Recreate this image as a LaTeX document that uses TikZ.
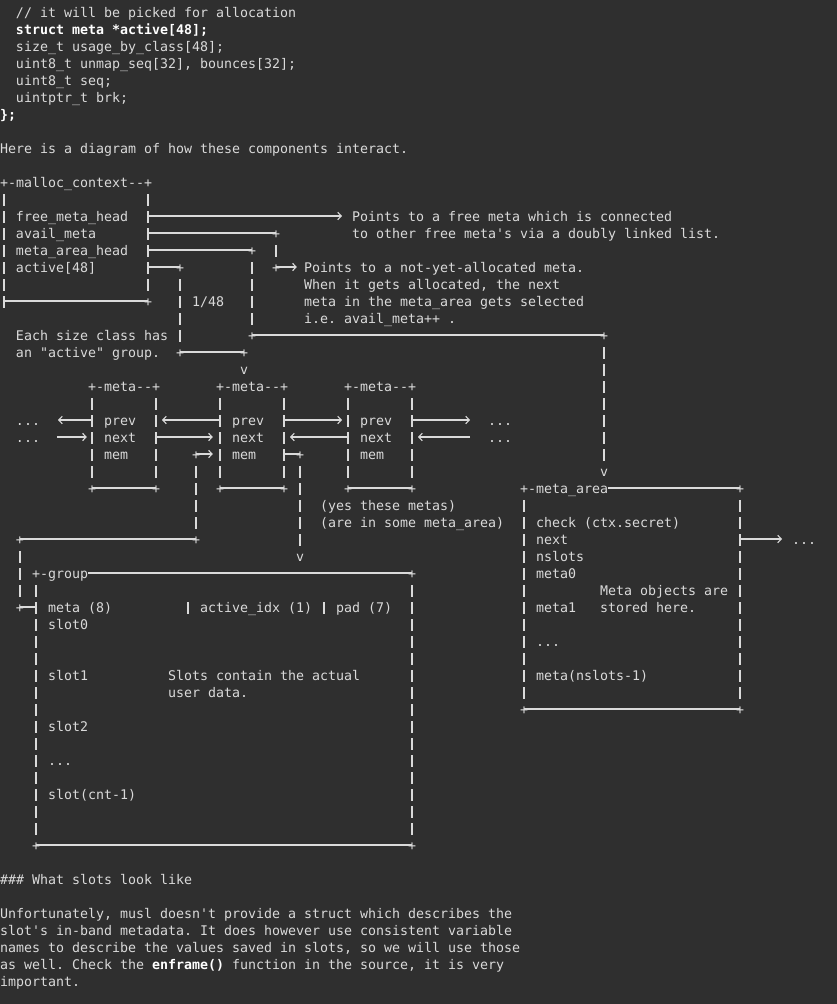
\documentclass[tikz,border=0pt]{standalone}
\usepackage{fontspec}
\setmonofont{DejaVu Sans Mono}
\usetikzlibrary{arrows.meta}
\definecolor{bg}{HTML}{2F2F2F}
\definecolor{fg}{HTML}{DADADA}
\tikzset{
  txt/.style={anchor=base west, inner sep=0pt, outer sep=0pt, text=fg,
    font=\ttfamily\fontsize{13.29pt}{17pt}\selectfont, xshift=-4pt, yshift=-5pt},
  bld/.style={txt, text=white, font=\ttfamily\bfseries\fontsize{13.29pt}{17pt}\selectfont},
  ln/.style={draw=fg, line width=1.1pt},
  arr/.style={ln, -{Straight Barb[length=3.5pt,width=7.5pt]}},
}
\newcommand\Tx[4]{\node[txt] (#1) at (#2,#3) {#4};}
\newcommand\Bx[4]{\node[bld] (#1) at (#2,#3) {#4};}
\newcommand\Vb[3]{\foreach \rr in {#2,...,#3}{\draw[ln] (#1,\rr-0.29) -- (#1,\rr+0.41);}}
\begin{document}
\begin{tikzpicture}[x=1pt,y=1pt]
\fill[bg] (0,0) rectangle (837,-1004);
\useasboundingbox (0,0) rectangle (837,-1004);
\begin{scope}[x=8pt,y=-17pt,shift={(4pt,-12pt)}]
% ---------- code excerpt ----------
\Tx{c1}{2}{0}{// it will be picked for allocation}
\Bx{c2}{2}{1}{struct meta *active[48];}
\Tx{c3}{2}{2}{size\_t usage\_by\_class[48];}
\Tx{c4}{2}{3}{uint8\_t unmap\_seq[32], bounces[32];}
\Tx{c5}{2}{4}{uint8\_t seq;}
\Tx{c6}{2}{5}{uintptr\_t brk;}
\Bx{c7}{0}{6}{\};}
\Tx{intro}{0}{8}{Here is a diagram of how these components interact.}
% ---------- malloc_context ----------
\Tx{ctxtop}{0}{10}{+-malloc\_context--+}
\Vb{0}{11}{17}
\Vb{18}{11}{16}
\Tx{f1}{2}{12}{free\_meta\_head}
\Tx{f2}{2}{13}{avail\_meta}
\Tx{f3}{2}{14}{meta\_area\_head}
\Tx{f4}{2}{15}{active[48]}
\draw[ln] (0,17) -- (18,17);
\Tx{ctxbr}{18}{17}{+}
% free_meta_head
\draw[arr] (18,12) -- (42.25,12);
\Tx{n1a}{44}{12}{Points to a free meta which is connected}
\Tx{n1b}{44}{13}{to other free meta's via a doubly linked list.}
% avail_meta
\draw[ln] (18,13) -- (34,13);
\Tx{p1}{34}{13}{+}
\Vb{34}{14}{14}
\Tx{p2}{34}{15}{+}
\draw[arr] (34,15) -- (36.6,15);
\Tx{n2a}{38}{15}{Points to a not-yet-allocated meta.}
\Tx{n2b}{38}{16}{When it gets allocated, the next}
\Tx{n2c}{38}{17}{meta in the meta\_area gets selected}
\Tx{n2d}{38}{18}{i.e. avail\_meta++ .}
% meta_area_head
\draw[ln] (18,14) -- (31,14);
\Tx{p3}{31}{14}{+}
\Vb{31}{15}{18}
\draw[ln] (31,19) -- (75,19);
\Tx{p4}{31}{19}{+}
\Tx{p5}{75}{19}{+}
\Vb{75}{20}{26}
\Tx{v1}{75}{27}{v}
% active
\draw[ln] (18,15) -- (22,15);
\Tx{p6}{22}{15}{+}
\Vb{22}{16}{19}
\Tx{frac}{24}{17}{1/48}
\draw[ln] (22,20) -- (30,20);
\Tx{p7}{22}{20}{+}
\Tx{p8}{30}{20}{+}
\Tx{v2}{30}{21}{v}
\Tx{e1}{2}{19}{Each size class has}
\Tx{e2}{2}{20}{an "active" group.}
% ---------- meta boxes ----------
\foreach \x/\nm in {11/ma,27/mb,43/mc}{
  \node[txt] (\nm top) at (\x,22) {+-meta--+};
  \Vb{\x}{23}{27}
  \Vb{\x+8}{23}{27}
  \draw[ln] (\x,28) -- (\x+8,28);
  \node[txt] (\nm bl) at (\x,28) {+};
  \node[txt] (\nm br) at (\x+8,28) {+};
  \node[txt] (\nm prev) at (\x+2,24) {prev};
  \node[txt] (\nm next) at (\x+2,25) {next};
  \node[txt] (\nm mem) at (\x+2,26) {mem};
}
\Tx{d1}{2}{24}{...}
\Tx{d2}{2}{25}{...}
\Tx{d3}{61}{24}{...}
\Tx{d4}{61}{25}{...}
\draw[arr] (11,24) -- (6.75,24);
\draw[arr] (27,24) -- (19.75,24);
\draw[arr] (35,24) -- (42.25,24);
\draw[arr] (51,24) -- (58.25,24);
\draw[arr] (6.6,25) -- (10.35,25);
\draw[arr] (19,25) -- (26.1,25);
\draw[arr] (43,25) -- (35.75,25);
\draw[arr] (58.25,25) -- (51.75,25);
% mem pointers
\Tx{p9}{24}{26}{+}
\draw[arr] (24,26) -- (26.1,26);
\draw[ln] (35,26) -- (37,26);
\Tx{p10}{37}{26}{+}
\Vb{24}{27}{30}
\Vb{37}{27}{31}
\Tx{v3}{37}{32}{v}
\draw[ln] (2,31) -- (24,31);
\Tx{p11}{2}{31}{+}
\Tx{p12}{24}{31}{+}
\Tx{y1}{40}{29}{(yes these metas)}
\Tx{y2}{40}{30}{(are in some meta\_area)}
% ---------- group ----------
\Vb{2}{32}{34}
\draw[ln] (2,35) -- (4,35);
\Tx{p13}{2}{35}{+}
\Tx{gtop}{4}{33}{+-group}
\draw[ln] (10.5,33) -- (51,33);
\Tx{p14}{51}{33}{+}
\Vb{4}{34}{48}
\Vb{51}{34}{48}
\draw[ln] (4,49) -- (51,49);
\Tx{p15}{4}{49}{+}
\Tx{p16}{51}{49}{+}
\Tx{g1}{6}{35}{meta (8)}
\Vb{23}{35}{35}
\Tx{g2}{25}{35}{active\_idx (1)}
\Vb{40}{35}{35}
\Tx{g3}{42}{35}{pad (7)}
\Tx{g4}{6}{36}{slot0}
\Tx{g5}{6}{39}{slot1}
\Tx{g6}{21}{39}{Slots contain the actual}
\Tx{g7}{21}{40}{user data.}
\Tx{g8}{6}{42}{slot2}
\Tx{g9}{6}{44}{...}
\Tx{g10}{6}{46}{slot(cnt-1)}
% ---------- meta_area ----------
\Tx{atop}{65}{28}{+-meta\_area}
\draw[ln] (75.5,28) -- (92,28);
\Tx{p17}{92}{28}{+}
\Vb{65}{29}{40}
\Vb{92}{29}{40}
\draw[ln] (65,41) -- (92,41);
\Tx{p18}{65}{41}{+}
\Tx{p19}{92}{41}{+}
\Tx{a1}{67}{30}{check (ctx.secret)}
\Tx{a2}{67}{31}{next}
\Tx{a3}{67}{32}{nslots}
\Tx{a4}{67}{33}{meta0}
\Tx{a5}{75}{34}{Meta objects are}
\Tx{a6}{67}{35}{meta1}
\Tx{a7}{75}{35}{stored here.}
\Tx{a8}{67}{37}{...}
\Tx{a9}{67}{39}{meta(nslots-1)}
\draw[arr] (92,31) -- (97.25,31);
\Tx{d5}{99}{31}{...}
% ---------- following text ----------
\Tx{h1}{0}{51}{\#\#\# What slots look like}
\Tx{t1}{0}{53}{Unfortunately, musl doesn't provide a struct which describes the}
\Tx{t2}{0}{54}{slot's in-band metadata. It does however use consistent variable}
\Tx{t3}{0}{55}{names to describe the values saved in slots, so we will use those}
\Tx{t4}{0}{56}{as well. Check the \textcolor{white}{\bfseries enframe()} function in the source, it is very}
\Tx{t5}{0}{57}{important.}
\end{scope}
\end{tikzpicture}
\end{document}
